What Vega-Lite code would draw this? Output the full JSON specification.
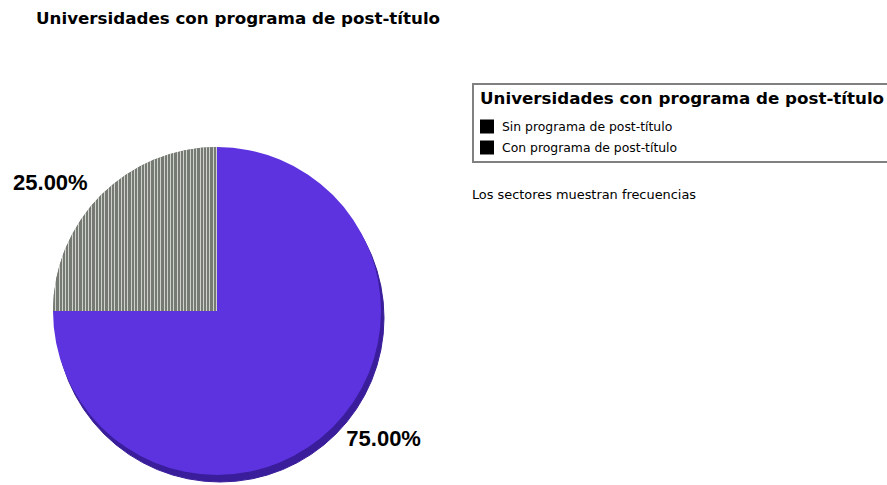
{
  "$schema": "https://vega.github.io/schema/vega-lite/v6.json",
  "autosize": "none",
  "width": 328,
  "height": 328,
  "padding": {"left": 53, "top": 147, "right": 506, "bottom": 10},
  "background": "white",
  "config": {"view": {"stroke": null}, "legend": {"symbolBaseFillColor": "black"}},
  "title": {
    "text": "Universidades con programa de post-título",
    "anchor": "start",
    "frame": "group",
    "dx": -17,
    "offset": 42,
    "baseline": "alphabetic",
    "font": "DejaVu Sans",
    "fontSize": 16.7,
    "fontWeight": "bold",
    "color": "black"
  },
  "data": {
    "values": [
      {"categoria": "Sin programa de post-título", "porcentaje": 0.75},
      {"categoria": "Con programa de post-título", "porcentaje": 0.25}
    ]
  },
  "resolve": {"scale": {"theta": "independent", "stroke": "independent"}},
  "layer": [
    {
      "mark": {"type": "arc", "color": "#3a1d9a", "xOffset": 3, "yOffset": 7},
      "encoding": {
        "theta": {"field": "porcentaje", "type": "quantitative", "stack": true},
        "order": {"field": "porcentaje", "sort": "descending"},
        "detail": {"field": "categoria"},
        "stroke": {
          "datum": "Los sectores muestran frecuencias",
          "scale": {"range": ["#3a1d9a"]},
          "legend": {
            "title": null,
            "orient": "none",
            "legendX": 406,
            "legendY": 42,
            "padding": 0,
            "symbolSize": 0,
            "symbolOpacity": 0,
            "symbolStrokeWidth": 0,
            "labelOffset": 0,
            "labelFont": "DejaVu Sans",
            "labelFontSize": 12.9,
            "labelColor": "black",
            "labelLimit": 400
          }
        }
      }
    },
    {
      "mark": {"type": "arc", "strokeWidth": 0},
      "encoding": {
        "theta": {"field": "porcentaje", "type": "quantitative", "stack": true},
        "order": {"field": "porcentaje", "sort": "descending"},
        "color": {
          "field": "categoria",
          "type": "nominal",
          "scale": {
            "domain": ["Sin programa de post-título", "Con programa de post-título"],
            "range": ["#5c33df", "#767b74"]
          },
          "legend": null
        },
        "stroke": {
          "field": "categoria",
          "type": "nominal",
          "scale": {
            "domain": ["Sin programa de post-título", "Con programa de post-título"],
            "range": ["black", "black"]
          },
          "legend": {
            "title": "Universidades con programa de post-título",
            "orient": "none",
            "legendX": 420,
            "legendY": -63,
            "padding": 7,
            "strokeColor": "#808080",
            "titleFont": "DejaVu Sans",
            "titleFontSize": 16.7,
            "titleFontWeight": "bold",
            "titleColor": "black",
            "titlePadding": 11.8,
            "titleLimit": 600,
            "labelFont": "DejaVu Sans",
            "labelFontSize": 12.4,
            "labelColor": "black",
            "labelOffset": 8,
            "labelLimit": 400,
            "symbolType": "square",
            "symbolSize": 196,
            "symbolStrokeWidth": 0,
            "symbolFillColor": "black",
            "rowPadding": 7,
            "encode": {
              "legend": {"update": {"strokeWidth": {"value": 2}}}
            }
          }
        }
      }
    },
    {
      "mark": {
        "type": "arc",
        "color": {
          "gradient": "linear", "x1": 0, "y1": 0, "x2": 1, "y2": 0,
          "stops": [
            {"offset": 0, "color": "#757a73"}, {"offset": 0.014, "color": "#757a73"}, {"offset": 0.014, "color": "#cfd2cd"}, {"offset": 0.02, "color": "#cfd2cd"},
            {"offset": 0.02, "color": "#757a73"}, {"offset": 0.034, "color": "#757a73"}, {"offset": 0.034, "color": "#cfd2cd"}, {"offset": 0.04, "color": "#cfd2cd"},
            {"offset": 0.04, "color": "#757a73"}, {"offset": 0.054, "color": "#757a73"}, {"offset": 0.054, "color": "#cfd2cd"}, {"offset": 0.06, "color": "#cfd2cd"},
            {"offset": 0.06, "color": "#757a73"}, {"offset": 0.074, "color": "#757a73"}, {"offset": 0.074, "color": "#cfd2cd"}, {"offset": 0.08, "color": "#cfd2cd"},
            {"offset": 0.08, "color": "#757a73"}, {"offset": 0.094, "color": "#757a73"}, {"offset": 0.094, "color": "#cfd2cd"}, {"offset": 0.1, "color": "#cfd2cd"},
            {"offset": 0.1, "color": "#757a73"}, {"offset": 0.114, "color": "#757a73"}, {"offset": 0.114, "color": "#cfd2cd"}, {"offset": 0.12, "color": "#cfd2cd"},
            {"offset": 0.12, "color": "#757a73"}, {"offset": 0.134, "color": "#757a73"}, {"offset": 0.134, "color": "#cfd2cd"}, {"offset": 0.14, "color": "#cfd2cd"},
            {"offset": 0.14, "color": "#757a73"}, {"offset": 0.154, "color": "#757a73"}, {"offset": 0.154, "color": "#cfd2cd"}, {"offset": 0.16, "color": "#cfd2cd"},
            {"offset": 0.16, "color": "#757a73"}, {"offset": 0.174, "color": "#757a73"}, {"offset": 0.174, "color": "#cfd2cd"}, {"offset": 0.18, "color": "#cfd2cd"},
            {"offset": 0.18, "color": "#757a73"}, {"offset": 0.194, "color": "#757a73"}, {"offset": 0.194, "color": "#cfd2cd"}, {"offset": 0.2, "color": "#cfd2cd"},
            {"offset": 0.2, "color": "#757a73"}, {"offset": 0.214, "color": "#757a73"}, {"offset": 0.214, "color": "#cfd2cd"}, {"offset": 0.22, "color": "#cfd2cd"},
            {"offset": 0.22, "color": "#757a73"}, {"offset": 0.234, "color": "#757a73"}, {"offset": 0.234, "color": "#cfd2cd"}, {"offset": 0.24, "color": "#cfd2cd"},
            {"offset": 0.24, "color": "#757a73"}, {"offset": 0.254, "color": "#757a73"}, {"offset": 0.254, "color": "#cfd2cd"}, {"offset": 0.26, "color": "#cfd2cd"},
            {"offset": 0.26, "color": "#757a73"}, {"offset": 0.274, "color": "#757a73"}, {"offset": 0.274, "color": "#cfd2cd"}, {"offset": 0.28, "color": "#cfd2cd"},
            {"offset": 0.28, "color": "#757a73"}, {"offset": 0.294, "color": "#757a73"}, {"offset": 0.294, "color": "#cfd2cd"}, {"offset": 0.3, "color": "#cfd2cd"},
            {"offset": 0.3, "color": "#757a73"}, {"offset": 0.314, "color": "#757a73"}, {"offset": 0.314, "color": "#cfd2cd"}, {"offset": 0.32, "color": "#cfd2cd"},
            {"offset": 0.32, "color": "#757a73"}, {"offset": 0.334, "color": "#757a73"}, {"offset": 0.334, "color": "#cfd2cd"}, {"offset": 0.34, "color": "#cfd2cd"},
            {"offset": 0.34, "color": "#757a73"}, {"offset": 0.354, "color": "#757a73"}, {"offset": 0.354, "color": "#cfd2cd"}, {"offset": 0.36, "color": "#cfd2cd"},
            {"offset": 0.36, "color": "#757a73"}, {"offset": 0.374, "color": "#757a73"}, {"offset": 0.374, "color": "#cfd2cd"}, {"offset": 0.38, "color": "#cfd2cd"},
            {"offset": 0.38, "color": "#757a73"}, {"offset": 0.394, "color": "#757a73"}, {"offset": 0.394, "color": "#cfd2cd"}, {"offset": 0.4, "color": "#cfd2cd"},
            {"offset": 0.4, "color": "#757a73"}, {"offset": 0.414, "color": "#757a73"}, {"offset": 0.414, "color": "#cfd2cd"}, {"offset": 0.42, "color": "#cfd2cd"},
            {"offset": 0.42, "color": "#757a73"}, {"offset": 0.434, "color": "#757a73"}, {"offset": 0.434, "color": "#cfd2cd"}, {"offset": 0.44, "color": "#cfd2cd"},
            {"offset": 0.44, "color": "#757a73"}, {"offset": 0.454, "color": "#757a73"}, {"offset": 0.454, "color": "#cfd2cd"}, {"offset": 0.46, "color": "#cfd2cd"},
            {"offset": 0.46, "color": "#757a73"}, {"offset": 0.474, "color": "#757a73"}, {"offset": 0.474, "color": "#cfd2cd"}, {"offset": 0.48, "color": "#cfd2cd"},
            {"offset": 0.48, "color": "#757a73"}, {"offset": 0.494, "color": "#757a73"}, {"offset": 0.494, "color": "#cfd2cd"}, {"offset": 0.5, "color": "#cfd2cd"},
            {"offset": 0.5, "color": "#757a73"}, {"offset": 0.514, "color": "#757a73"}, {"offset": 0.514, "color": "#cfd2cd"}, {"offset": 0.52, "color": "#cfd2cd"},
            {"offset": 0.52, "color": "#757a73"}, {"offset": 0.534, "color": "#757a73"}, {"offset": 0.534, "color": "#cfd2cd"}, {"offset": 0.54, "color": "#cfd2cd"},
            {"offset": 0.54, "color": "#757a73"}, {"offset": 0.554, "color": "#757a73"}, {"offset": 0.554, "color": "#cfd2cd"}, {"offset": 0.56, "color": "#cfd2cd"},
            {"offset": 0.56, "color": "#757a73"}, {"offset": 0.574, "color": "#757a73"}, {"offset": 0.574, "color": "#cfd2cd"}, {"offset": 0.58, "color": "#cfd2cd"},
            {"offset": 0.58, "color": "#757a73"}, {"offset": 0.594, "color": "#757a73"}, {"offset": 0.594, "color": "#cfd2cd"}, {"offset": 0.6, "color": "#cfd2cd"},
            {"offset": 0.6, "color": "#757a73"}, {"offset": 0.614, "color": "#757a73"}, {"offset": 0.614, "color": "#cfd2cd"}, {"offset": 0.62, "color": "#cfd2cd"},
            {"offset": 0.62, "color": "#757a73"}, {"offset": 0.634, "color": "#757a73"}, {"offset": 0.634, "color": "#cfd2cd"}, {"offset": 0.64, "color": "#cfd2cd"},
            {"offset": 0.64, "color": "#757a73"}, {"offset": 0.654, "color": "#757a73"}, {"offset": 0.654, "color": "#cfd2cd"}, {"offset": 0.66, "color": "#cfd2cd"},
            {"offset": 0.66, "color": "#757a73"}, {"offset": 0.674, "color": "#757a73"}, {"offset": 0.674, "color": "#cfd2cd"}, {"offset": 0.68, "color": "#cfd2cd"},
            {"offset": 0.68, "color": "#757a73"}, {"offset": 0.694, "color": "#757a73"}, {"offset": 0.694, "color": "#cfd2cd"}, {"offset": 0.7, "color": "#cfd2cd"},
            {"offset": 0.7, "color": "#757a73"}, {"offset": 0.714, "color": "#757a73"}, {"offset": 0.714, "color": "#cfd2cd"}, {"offset": 0.72, "color": "#cfd2cd"},
            {"offset": 0.72, "color": "#757a73"}, {"offset": 0.734, "color": "#757a73"}, {"offset": 0.734, "color": "#cfd2cd"}, {"offset": 0.74, "color": "#cfd2cd"},
            {"offset": 0.74, "color": "#757a73"}, {"offset": 0.754, "color": "#757a73"}, {"offset": 0.754, "color": "#cfd2cd"}, {"offset": 0.76, "color": "#cfd2cd"},
            {"offset": 0.76, "color": "#757a73"}, {"offset": 0.774, "color": "#757a73"}, {"offset": 0.774, "color": "#cfd2cd"}, {"offset": 0.78, "color": "#cfd2cd"},
            {"offset": 0.78, "color": "#757a73"}, {"offset": 0.794, "color": "#757a73"}, {"offset": 0.794, "color": "#cfd2cd"}, {"offset": 0.8, "color": "#cfd2cd"},
            {"offset": 0.8, "color": "#757a73"}, {"offset": 0.814, "color": "#757a73"}, {"offset": 0.814, "color": "#cfd2cd"}, {"offset": 0.82, "color": "#cfd2cd"},
            {"offset": 0.82, "color": "#757a73"}, {"offset": 0.834, "color": "#757a73"}, {"offset": 0.834, "color": "#cfd2cd"}, {"offset": 0.84, "color": "#cfd2cd"},
            {"offset": 0.84, "color": "#757a73"}, {"offset": 0.854, "color": "#757a73"}, {"offset": 0.854, "color": "#cfd2cd"}, {"offset": 0.86, "color": "#cfd2cd"},
            {"offset": 0.86, "color": "#757a73"}, {"offset": 0.874, "color": "#757a73"}, {"offset": 0.874, "color": "#cfd2cd"}, {"offset": 0.88, "color": "#cfd2cd"},
            {"offset": 0.88, "color": "#757a73"}, {"offset": 0.894, "color": "#757a73"}, {"offset": 0.894, "color": "#cfd2cd"}, {"offset": 0.9, "color": "#cfd2cd"},
            {"offset": 0.9, "color": "#757a73"}, {"offset": 0.914, "color": "#757a73"}, {"offset": 0.914, "color": "#cfd2cd"}, {"offset": 0.92, "color": "#cfd2cd"},
            {"offset": 0.92, "color": "#757a73"}, {"offset": 0.934, "color": "#757a73"}, {"offset": 0.934, "color": "#cfd2cd"}, {"offset": 0.94, "color": "#cfd2cd"},
            {"offset": 0.94, "color": "#757a73"}, {"offset": 0.954, "color": "#757a73"}, {"offset": 0.954, "color": "#cfd2cd"}, {"offset": 0.96, "color": "#cfd2cd"},
            {"offset": 0.96, "color": "#757a73"}, {"offset": 0.974, "color": "#757a73"}, {"offset": 0.974, "color": "#cfd2cd"}, {"offset": 0.98, "color": "#cfd2cd"},
            {"offset": 0.98, "color": "#757a73"}, {"offset": 0.994, "color": "#757a73"}, {"offset": 0.994, "color": "#cfd2cd"}, {"offset": 1, "color": "#cfd2cd"}
          ]
        }
      },
      "encoding": {
        "theta": {"field": "porcentaje", "type": "quantitative", "stack": true},
        "order": {"field": "porcentaje", "sort": "descending"},
        "detail": {"field": "categoria"},
        "opacity": {
          "condition": {"test": "datum.categoria === 'Con programa de post-título'", "value": 1},
          "value": 0
        }
      }
    },
    {
      "mark": {
        "type": "text",
        "radius": 210,
        "font": "Liberation Sans",
        "fontSize": 22,
        "fontWeight": "bold",
        "color": "black",
        "align": "center",
        "baseline": "middle"
      },
      "encoding": {
        "theta": {
          "field": "porcentaje",
          "type": "quantitative",
          "stack": true,
          "scale": {"range": [-0.131, 6.152]}
        },
        "order": {"field": "porcentaje", "sort": "descending"},
        "detail": {"field": "categoria"},
        "text": {"field": "porcentaje", "type": "quantitative", "format": ".2%"}
      }
    }
  ]
}
